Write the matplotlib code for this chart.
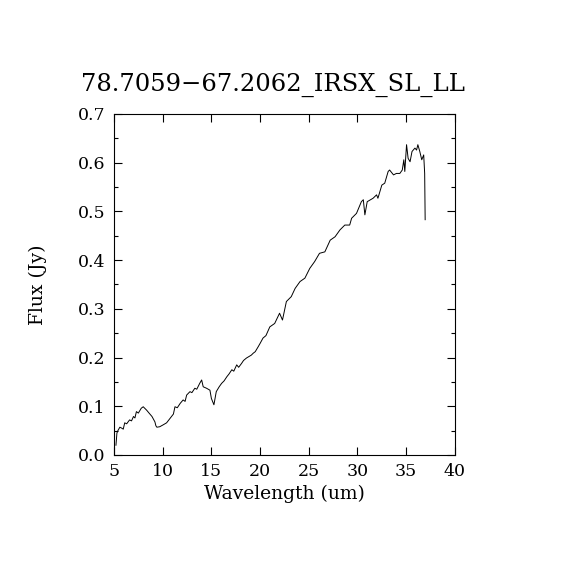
import matplotlib
matplotlib.use("Agg")
import matplotlib.pyplot as plt
from matplotlib.ticker import MultipleLocator

# spectrum
wavelength = [5.2, 5.3, 5.4, 5.6, 5.8, 5.95, 6.1, 6.3, 6.6, 6.8, 7.0, 7.15, 7.3, 7.5,
              7.8, 8.0, 8.35, 8.6, 8.9, 9.2, 9.3, 9.4, 9.7, 10.06, 10.4, 10.75, 11.1,
              11.26, 11.5, 11.8, 12.1, 12.3, 12.46, 12.8, 13.0, 13.3, 13.5, 13.8, 14.0,
              14.16, 14.5, 14.85, 15.0, 15.26, 15.5, 15.8, 16.05, 16.3, 16.6, 16.8,
              17.1, 17.3, 17.6, 17.8, 18.1, 18.3, 18.6, 19.1, 19.3, 19.5, 19.8, 20.0,
              20.3, 20.6, 21.0, 21.5, 22.0, 22.3, 22.7, 23.2, 23.6, 24.1, 24.6, 25.1,
              25.6, 26.1, 26.65, 27.2, 27.7, 28.2, 28.7, 29.2, 29.4, 29.9, 30.4, 30.6,
              30.76, 31.0, 31.6, 31.96, 32.1, 32.5, 32.8, 33.15, 33.3, 33.7, 34.0,
              34.35, 34.6, 34.76, 34.86, 35.04, 35.2, 35.4, 35.6, 35.9, 36.07, 36.2,
              36.4, 36.6, 36.8, 36.9, 36.95]
flux = [0.02, 0.045, 0.05, 0.057, 0.055, 0.053, 0.066, 0.064, 0.072, 0.07, 0.079, 0.076,
        0.089, 0.086, 0.096, 0.099, 0.092, 0.086, 0.079, 0.068, 0.06, 0.057, 0.058,
        0.062, 0.066, 0.075, 0.084, 0.099, 0.097, 0.106, 0.113, 0.11, 0.123, 0.13,
        0.128, 0.137, 0.135, 0.147, 0.154, 0.14, 0.137, 0.133, 0.116, 0.103, 0.13,
        0.14, 0.147, 0.152, 0.161, 0.166, 0.175, 0.172, 0.185, 0.18, 0.188, 0.194,
        0.199, 0.205, 0.209, 0.212, 0.222, 0.229, 0.24, 0.245, 0.263, 0.27, 0.291,
        0.277, 0.315, 0.325, 0.342, 0.356, 0.363, 0.383, 0.397, 0.414, 0.417, 0.441,
        0.448, 0.462, 0.472, 0.472, 0.486, 0.496, 0.52, 0.524, 0.493, 0.52, 0.527,
        0.534, 0.527, 0.554, 0.558, 0.582, 0.585, 0.575, 0.578, 0.578, 0.585, 0.606,
        0.582, 0.637, 0.609, 0.602, 0.623, 0.63, 0.626, 0.637, 0.623, 0.606, 0.616,
        0.578, 0.483]

plt.rcParams['font.family'] = ['DejaVu Serif']

fig = plt.figure(figsize=(5.7, 5.7), dpi=100)
ax = fig.add_axes([0.2, 0.2018, 0.598, 0.5982])
ax.plot(wavelength, flux, color='black', lw=0.7)

ax.set_xlim(5, 40)
ax.set_ylim(0, 0.7)
ax.xaxis.set_major_locator(MultipleLocator(5))
ax.yaxis.set_major_locator(MultipleLocator(0.1))
ax.yaxis.set_minor_locator(MultipleLocator(0.05))
ax.tick_params(which='both', direction='in', top=True, right=True, labelsize=12.5, width=0.8)
ax.tick_params(which='major', length=6, pad=6)
ax.tick_params(which='minor', length=3)
for s in ax.spines.values():
    s.set_linewidth(0.8)

ax.set_xlabel('Wavelength (um)', fontsize=13.5, labelpad=3)
ax.set_ylabel('Flux (Jy)', fontsize=13.5, labelpad=22)
ax.set_title('78.7059\u221267.2062_IRSX_SL_LL', fontsize=17.5, pad=17, x=0.467)

fig.savefig('out.png', dpi=100)
